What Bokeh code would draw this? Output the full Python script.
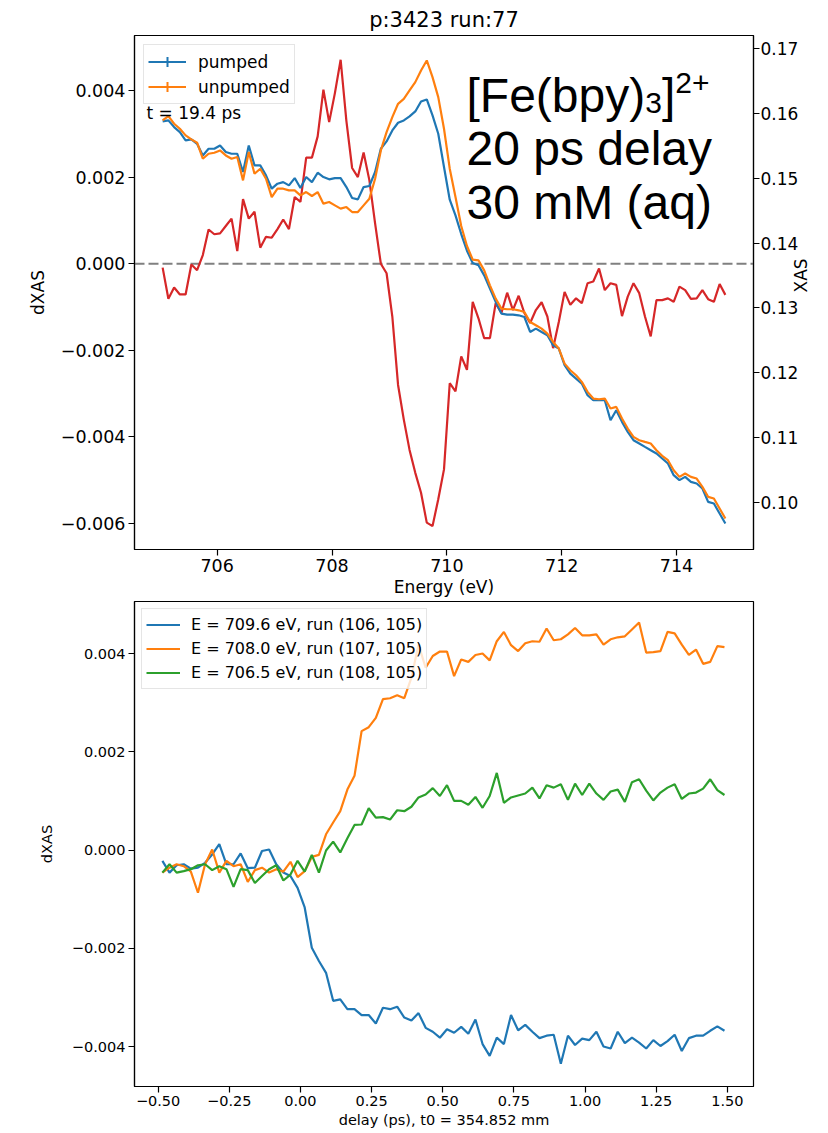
import math
from bokeh.plotting import figure
from bokeh.models import (Range1d, LinearAxis, FixedTicker, CustomJSTickFormatter,
                          Legend, LegendItem, Label, Span)
from bokeh.core.properties import value
from bokeh.layouts import column
from bokeh.embed import file_html
from bokeh.resources import INLINE

# ---------------- data: top panel (energy scan) ----------------
energy = [705.05, 705.15, 705.25, 705.35, 705.45, 705.55, 705.65, 705.75, 705.85, 705.95,
          706.05, 706.15, 706.25, 706.35, 706.45, 706.55, 706.65, 706.75, 706.85, 706.95,
          707.05, 707.15, 707.25, 707.35, 707.45, 707.55, 707.65, 707.75, 707.85, 707.95,
          708.05, 708.15, 708.25, 708.35, 708.45, 708.55, 708.65, 708.75, 708.85, 708.95,
          709.05, 709.15, 709.25, 709.35, 709.45, 709.55, 709.65, 709.75, 709.85, 709.95,
          710.05, 710.15, 710.25, 710.35, 710.45, 710.55, 710.65, 710.75, 710.85, 710.95,
          711.05, 711.15, 711.25, 711.35, 711.45, 711.55, 711.65, 711.75, 711.85, 711.95,
          712.05, 712.15, 712.25, 712.35, 712.45, 712.55, 712.65, 712.75, 712.85, 712.95,
          713.05, 713.15, 713.25, 713.35, 713.45, 713.55, 713.65, 713.75, 713.85, 713.95,
          714.05, 714.15, 714.25, 714.35, 714.45, 714.55, 714.65, 714.75, 714.85]

dxas = [-0.00009, -0.00081, -0.00055, -0.00071, -0.00071, -0.00002, -0.00015, 0.00020, 0.00079, 0.00068,
        0.00070, 0.00087, 0.00104, 0.00029, 0.00149, 0.00104, 0.00120, 0.00037, 0.00062, 0.00060,
        0.00080, 0.00102, 0.00080, 0.00154, 0.00143, 0.00245, 0.00245, 0.00294, 0.00402, 0.00327,
        0.00394, 0.00471, 0.00330, 0.00221, 0.00200, 0.00257, 0.00193, 0.00093, 0.00000, -0.00022,
        -0.00122, -0.00280, -0.00360, -0.00430, -0.00483, -0.00529, -0.00598, -0.00606, -0.00544, -0.00475,
        -0.00276, -0.00295, -0.00214, -0.00245, -0.00088, -0.00126, -0.00172, -0.00172, -0.00091, -0.00114,
        -0.00067, -0.00107, -0.00074, -0.00114, -0.00137, -0.00107, -0.00089, -0.00122, -0.00195, -0.00134,
        -0.00065, -0.00095, -0.00080, -0.00091, -0.00045, -0.00041, -0.00011, -0.00061, -0.00045, -0.00049,
        -0.00121, -0.00076, -0.00045, -0.00068, -0.00122, -0.00168, -0.00084, -0.00084, -0.00080, -0.00088,
        -0.00053, -0.00061, -0.00081, -0.00080, -0.00061, -0.00082, -0.00088, -0.00047, -0.00072]

xas_pumped = [0.15875, 0.15891, 0.15788, 0.15711, 0.15582, 0.15598, 0.15531, 0.15351, 0.15454, 0.15454,
              0.15505, 0.15403, 0.15377, 0.15377, 0.15095, 0.15505, 0.15197, 0.15197, 0.15043, 0.14838,
              0.14915, 0.14940, 0.14889, 0.15002, 0.14848, 0.15018, 0.14940, 0.15084, 0.15018, 0.14982,
              0.15002, 0.15002, 0.14863, 0.14694, 0.14673, 0.14863, 0.14879, 0.15095, 0.15454, 0.15567,
              0.15737, 0.15855, 0.15891, 0.15952, 0.16029, 0.16183, 0.16214, 0.15968, 0.15685, 0.15172,
              0.14668, 0.14427, 0.14139, 0.13882, 0.13692, 0.13657, 0.13502, 0.13297, 0.13092, 0.12912,
              0.12896, 0.12896, 0.12886, 0.12860, 0.12629, 0.12681, 0.12629, 0.12578, 0.12424, 0.12373,
              0.12116, 0.11987, 0.11910, 0.11833, 0.11653, 0.11576, 0.11576, 0.11576, 0.11268, 0.11422,
              0.11243, 0.11089, 0.10960, 0.10909, 0.10857, 0.10806, 0.10755, 0.10678, 0.10601, 0.10421,
              0.10344, 0.10395, 0.10318, 0.10292, 0.10215, 0.10010, 0.09984, 0.09830, 0.09676]

xas_unpumped = [0.15891, 0.15957, 0.15839, 0.15762, 0.15660, 0.15598, 0.15547, 0.15300, 0.15377, 0.15392,
                0.15428, 0.15351, 0.15300, 0.15326, 0.14966, 0.15403, 0.15069, 0.15146, 0.14992, 0.14709,
                0.14838, 0.14838, 0.14812, 0.14812, 0.14735, 0.14786, 0.14725, 0.14786, 0.14607, 0.14632,
                0.14581, 0.14530, 0.14555, 0.14478, 0.14478, 0.14581, 0.14684, 0.14992, 0.15428, 0.15711,
                0.15942, 0.16147, 0.16224, 0.16353, 0.16481, 0.16661, 0.16815, 0.16558, 0.16250, 0.15762,
                0.15146, 0.14709, 0.14263, 0.13954, 0.13744, 0.13734, 0.13579, 0.13348, 0.13143, 0.12989,
                0.12979, 0.12979, 0.12963, 0.12937, 0.12783, 0.12732, 0.12681, 0.12604, 0.12475, 0.12373,
                0.12141, 0.12039, 0.11962, 0.11859, 0.11705, 0.11602, 0.11592, 0.11602, 0.11448, 0.11474,
                0.11294, 0.11140, 0.11011, 0.10960, 0.10934, 0.10909, 0.10806, 0.10719, 0.10652, 0.10498,
                0.10395, 0.10446, 0.10395, 0.10369, 0.10241, 0.10087, 0.10061, 0.09907, 0.09753]

top_left_ticks = [-0.006, -0.004, -0.002, 0.0, 0.002, 0.004]
top_right_ticks = [0.10, 0.11, 0.12, 0.13, 0.14, 0.15, 0.16, 0.17]
top_x_ticks = [706, 708, 710, 712, 714]

# ---------------- data: bottom panel (delay scans) ----------------
delay = [-0.485, -0.46, -0.435, -0.41, -0.385, -0.36, -0.335, -0.31, -0.285, -0.26,
         -0.235, -0.21, -0.185, -0.16, -0.135, -0.11, -0.085, -0.06, -0.035, -0.01,
         0.015, 0.04, 0.065, 0.09, 0.115, 0.14, 0.165, 0.19, 0.215, 0.24,
         0.265, 0.29, 0.315, 0.34, 0.365, 0.39, 0.415, 0.44, 0.465, 0.49,
         0.515, 0.54, 0.565, 0.59, 0.615, 0.64, 0.665, 0.69, 0.715, 0.74,
         0.765, 0.79, 0.815, 0.84, 0.865, 0.89, 0.915, 0.94, 0.965, 0.99,
         1.015, 1.04, 1.065, 1.09, 1.115, 1.14, 1.165, 1.19, 1.215, 1.24,
         1.265, 1.29, 1.315, 1.34, 1.365, 1.39, 1.415, 1.44, 1.465, 1.49]

scan_709 = [-0.00022, -0.00046, -0.00031, -0.00029, -0.00038, -0.00036, -0.00026, -0.00009, 0.00012, -0.00029,
            -0.00029, -0.00007, -0.00037, -0.00036, -0.00002, 0.00001, -0.00029, -0.00046, -0.00053, -0.00077,
            -0.00117, -0.00199, -0.00226, -0.00250, -0.00307, -0.00304, -0.00324, -0.00324, -0.00336, -0.00336,
            -0.00353, -0.00321, -0.00324, -0.00319, -0.00341, -0.00347, -0.00332, -0.00362, -0.00370, -0.00382,
            -0.00365, -0.00372, -0.00360, -0.00374, -0.00345, -0.00395, -0.00419, -0.00382, -0.00395, -0.00336,
            -0.00367, -0.00356, -0.00370, -0.00383, -0.00378, -0.00376, -0.00435, -0.00378, -0.00397, -0.00384,
            -0.00387, -0.00370, -0.00400, -0.00404, -0.00370, -0.00393, -0.00382, -0.00392, -0.00404, -0.00387,
            -0.00399, -0.00389, -0.00376, -0.00409, -0.00383, -0.00378, -0.00378, -0.00368, -0.00359, -0.00368]

scan_708 = [-0.00046, -0.00036, -0.00029, -0.00033, -0.00044, -0.00087, -0.00029, 0.00001, -0.00046, -0.00022,
            -0.00033, -0.00029, -0.00065, -0.00041, -0.00036, -0.00046, -0.00039, -0.00044, -0.00024, -0.00055,
            -0.00043, -0.00014, -0.00010, 0.00032, 0.00056, 0.00079, 0.00123, 0.00151, 0.00242, 0.00250,
            0.00269, 0.00307, 0.00309, 0.00315, 0.00309, 0.00351, 0.00418, 0.00371, 0.00395, 0.00404,
            0.00404, 0.00354, 0.00388, 0.00383, 0.00397, 0.00400, 0.00386, 0.00425, 0.00444, 0.00417,
            0.00405, 0.00421, 0.00425, 0.00424, 0.00451, 0.00427, 0.00429, 0.00439, 0.00452, 0.00437,
            0.00437, 0.00439, 0.00418, 0.00429, 0.00433, 0.00435, 0.00449, 0.00463, 0.00402, 0.00403,
            0.00405, 0.00444, 0.00441, 0.00418, 0.00397, 0.00408, 0.00379, 0.00383, 0.00415, 0.00413]

scan_706 = [-0.00046, -0.00029, -0.00046, -0.00043, -0.00039, -0.00031, -0.00029, -0.00041, -0.00033, -0.00039,
            -0.00075, -0.00039, -0.00041, -0.00067, -0.00053, -0.00039, -0.00031, -0.00062, -0.00050, -0.00022,
            -0.00044, -0.00010, -0.00046, -0.00001, 0.00017, -0.00005, 0.00024, 0.00051, 0.00052, 0.00085,
            0.00066, 0.00067, 0.00062, 0.00081, 0.00079, 0.00088, 0.00107, 0.00113, 0.00126, 0.00110,
            0.00132, 0.00100, 0.00100, 0.00092, 0.00108, 0.00086, 0.00110, 0.00157, 0.00096, 0.00107,
            0.00111, 0.00115, 0.00127, 0.00105, 0.00132, 0.00127, 0.00134, 0.00102, 0.00135, 0.00112,
            0.00135, 0.00115, 0.00102, 0.00119, 0.00123, 0.00098, 0.00138, 0.00144, 0.00121, 0.00101,
            0.00117, 0.00127, 0.00134, 0.00104, 0.00115, 0.00117, 0.00125, 0.00144, 0.00122, 0.00112]

scan_labels = ["E = 709.6 eV, run (106, 105)",
               "E = 708.0 eV, run (107, 105)",
               "E = 706.5 eV, run (108, 105)"]
bottom_y_ticks = [-0.004, -0.002, 0.0, 0.002, 0.004]
bottom_x_ticks = [-0.5, -0.25, 0.0, 0.25, 0.5, 0.75, 1.0, 1.25, 1.5]

# ---------------- styling ----------------
FONT = "DejaVu Sans"
C_BLUE, C_ORANGE, C_GREEN, C_RED = "#1f77b4", "#ff7f0e", "#2ca02c", "#d62728"
LW = 2.2


def fmt(decimals):
    return CustomJSTickFormatter(code="""
        const s = Math.abs(tick).toFixed(%d);
        return (tick < -1e-12 ? '\u2212' : '') + s;
    """ % decimals)


def style_axis(ax, tick_size, label_size, label_standoff, tick_standoff=3):
    ax.major_label_text_font = FONT
    ax.major_label_text_font_size = tick_size
    ax.major_label_text_color = "black"
    ax.axis_label_text_font = FONT
    ax.axis_label_text_font_size = label_size
    ax.axis_label_text_font_style = "normal"
    ax.axis_label_text_color = "black"
    ax.axis_label_standoff = label_standoff
    ax.major_tick_out = 6
    ax.major_tick_in = 0
    ax.minor_tick_out = 0
    ax.minor_tick_in = 0
    ax.major_tick_line_width = 1.2
    ax.axis_line_width = 1.2
    ax.axis_line_color = "black"
    ax.major_tick_line_color = "black"
    ax.major_label_standoff = tick_standoff


# ---------------- top panel ----------------
X0, X1 = 704.56, 715.34
Y0, Y1 = -0.0066, 0.00527
R0, R1 = 0.09275, 0.172

p1 = figure(width=828, height=600, output_backend="svg", toolbar_location=None,
            x_range=Range1d(X0, X1), y_range=Range1d(Y0, Y1),
            min_border_left=134, min_border_right=75, min_border_top=35, min_border_bottom=51,
            title="p:3423 run:77")
p1.extra_y_ranges = {"xas": Range1d(R0, R1)}
p1.xgrid.visible = False
p1.ygrid.visible = False
p1.outline_line_color = "black"
p1.outline_line_width = 1.2
p1.title.align = "center"
p1.title.text_font = FONT
p1.title.text_font_size = "21px"
p1.title.text_font_style = "normal"
p1.title.text_color = "black"
p1.title.standoff = 8

p1.xaxis.ticker = FixedTicker(ticks=top_x_ticks)
p1.xaxis.axis_label = "Energy (eV)"
p1.yaxis.ticker = FixedTicker(ticks=top_left_ticks)
p1.yaxis.formatter = fmt(3)
p1.yaxis.axis_label = "dXAS"
style_axis(p1.xaxis[0], "17.5px", "17px", 2)
style_axis(p1.yaxis[0], "17.5px", "17px", 10)

ax_r = LinearAxis(y_range_name="xas", axis_label="XAS",
                  ticker=FixedTicker(ticks=top_right_ticks), formatter=fmt(2))
style_axis(ax_r, "17px", "17px", 0, tick_standoff=1)
try:
    ax_r.axis_label_orientation = math.pi / 2
except Exception:
    pass
p1.add_layout(ax_r, "right")

p1.add_layout(Span(location=0, dimension="width", line_color="gray",
                   line_dash="10 4", line_width=2, level="underlay"))

p1.line(energy, dxas, line_color=C_RED, line_width=LW)
r_pump = p1.line(energy, xas_pumped, line_color=C_BLUE, line_width=LW, y_range_name="xas")
m_pump = p1.scatter(energy, xas_pumped, marker="cross", size=0, line_color=C_BLUE,
                    line_width=2, y_range_name="xas")
r_unp = p1.line(energy, xas_unpumped, line_color=C_ORANGE, line_width=LW, y_range_name="xas")
m_unp = p1.scatter(energy, xas_unpumped, marker="cross", size=0, line_color=C_ORANGE,
                   line_width=2, y_range_name="xas")


def ex(px):
    return X0 + (px - 134) * (X1 - X0) / 619.0


def ey(py):
    return Y1 - (py - 35) * (Y1 - Y0) / 514.0


p1.text(x=[ex(146)], y=[ey(112)], text=["t = 19.4 ps"], text_font=value(FONT),
        text_font_size="17px", text_color="black", text_baseline="alphabetic")

leg1 = Legend(items=[LegendItem(label="pumped", renderers=[r_pump, m_pump]),
                     LegendItem(label="unpumped", renderers=[r_unp, m_unp])],
              location="top_left", margin=9, padding=4, spacing=0,
              glyph_width=38, glyph_height=25, label_height=25, label_standoff=12,
              label_text_font=FONT, label_text_font_size="17px", label_text_color="black",
              border_line_color="#cccccc", border_line_width=1,
              background_fill_color="white", background_fill_alpha=0.8)
p1.add_layout(leg1)

BIG = "Liberation Sans"
big_pieces = [("[Fe(bpy)", 466, 95, "48px"),
              ("3", 644.7, 102, "30px"),
              ("]", 661.4, 95, "48px"),
              ("2+", 674.7, 82, "30px"),
              ("20 ps delay", 466, 148, "48px"),
              ("30 mM (aq)", 466, 202, "48px")]
for txt, px, py, fs in big_pieces:
    p1.add_layout(Label(x=ex(px), y=ey(py), text=txt, text_font=BIG, text_font_size=fs,
                        text_color="black", text_baseline="alphabetic"))

# ---------------- bottom panel ----------------
p2 = figure(width=828, height=533, output_backend="svg", toolbar_location=None,
            x_range=Range1d(-0.583, 1.592), y_range=Range1d(-0.004814, 0.005059),
            min_border_left=133, min_border_right=69, min_border_top=1, min_border_bottom=47)
p2.xgrid.visible = False
p2.ygrid.visible = False
p2.outline_line_color = "black"
p2.outline_line_width = 1.2
p2.xaxis.ticker = FixedTicker(ticks=bottom_x_ticks)
p2.xaxis.formatter = fmt(2)
p2.xaxis.axis_label = "delay (ps), t0 = 354.852 mm"
p2.yaxis.ticker = FixedTicker(ticks=bottom_y_ticks)
p2.yaxis.formatter = fmt(3)
p2.yaxis.axis_label = "dXAS"
style_axis(p2.xaxis[0], "14.5px", "14.5px", 3)
style_axis(p2.yaxis[0], "14.5px", "14.5px", 14)

rb = p2.line(delay, scan_709, line_color=C_BLUE, line_width=LW)
ro = p2.line(delay, scan_708, line_color=C_ORANGE, line_width=LW)
rg = p2.line(delay, scan_706, line_color=C_GREEN, line_width=LW)

leg2 = Legend(items=[LegendItem(label=scan_labels[0], renderers=[rb]),
                     LegendItem(label=scan_labels[1], renderers=[ro]),
                     LegendItem(label=scan_labels[2], renderers=[rg])],
              location="top_left", margin=7, padding=4, spacing=1,
              glyph_width=34, glyph_height=23, label_height=23, label_standoff=11,
              label_text_font=FONT, label_text_font_size="16px", label_text_color="black",
              border_line_color="#cccccc", border_line_width=1,
              background_fill_color="white", background_fill_alpha=0.8)
p2.add_layout(leg2)

layout = column(p1, p2, spacing=0)
open("out.html", "w").write(file_html(layout, INLINE))
